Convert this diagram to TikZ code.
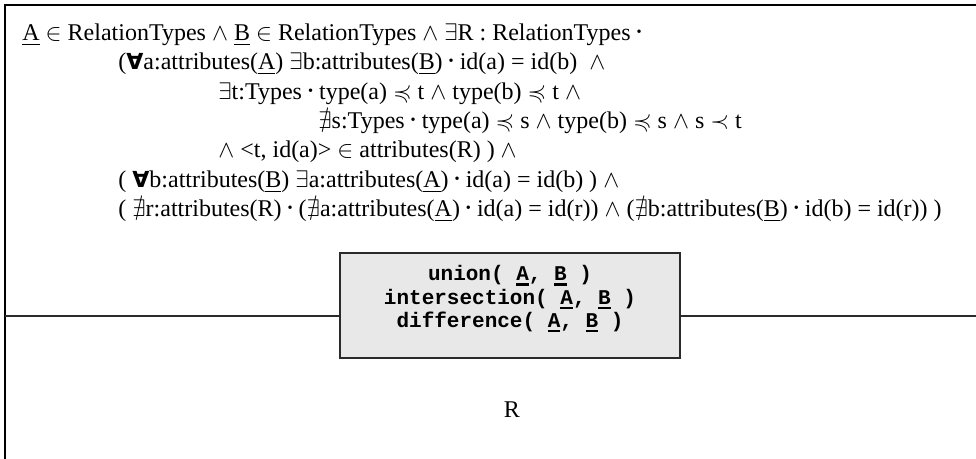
\documentclass[tikz,border=0pt]{standalone}
\usepackage{amsmath,amssymb}
\usepackage{graphicx}
\usepackage{fontspec}
\setmainfont{Liberation Serif}
\newfontfamily\codefont{Liberation Mono}
\newfontfamily\symfont{DejaVu Sans}

\definecolor{boxgray}{HTML}{E8E8E8}
\definecolor{edgegray}{HTML}{2A2A2A}

% thin underline for relation names in the formula
\newcommand{\relname}[1]{\underline{#1}}
% heavy underline for relation names in the operator box
\newcommand{\coderel}[1]{\leavevmode\setbox0\hbox{#1}\rlap{\rule[-0.22em]{\wd0}{0.11em}}\box0\relax}
% bold centred dot used as the "such that" separator
\newcommand{\st}{\raisebox{0.17em}{\scalebox{0.6}{\textbullet}}}
% heavy universal quantifier
\newcommand{\forallq}{{\symfont\bfseries\scalebox{0.92}{∀}}}

\begin{document}
\begin{tikzpicture}[x=0.5pt,y=-0.5pt,
  formula/.style={anchor=base west,inner sep=0pt,font=\fontsize{12}{14}\selectfont},
  opbox/.style={draw=edgegray,line width=0.8pt,fill=boxgray,minimum width=170pt,
    minimum height=52.5pt,inner sep=0pt},
  optext/.style={align=center,inner sep=0pt,
    font=\codefont\bfseries\fontsize{10.5}{11.7}\selectfont},
  frame/.style={line width=1.1pt,black},
  wire/.style={line width=0.8pt,edgegray}]
\useasboundingbox (0,0) rectangle (976,459);

% outer frame (top and left side)
\coordinate (topright) at (976,5);
\coordinate (corner) at (5,5);
\coordinate (bottomleft) at (5,459);
\draw[frame] (topright) -- (corner) -- (bottomleft);

% constraint formula
\node[formula] (l1) at (22,41) {\relname{A} $\in$ RelationTypes $\wedge$ \relname{B} $\in$ RelationTypes $\wedge$ $\exists$R : RelationTypes \st};
\node[formula] (l2) at (118,70) {(\forallq a:attributes(\relname{A}) $\exists$b:attributes(\relname{B}) \st{} id(a) = id(b) \ $\wedge$};
\node[formula] (l3) at (218,100) {$\exists$t:Types \st{} type(a) $\preccurlyeq$ t $\wedge$ type(b) $\preccurlyeq$ t $\wedge$};
\node[formula] (l4) at (318,129) {$\nexists$s:Types \st{} type(a) $\preccurlyeq$ s $\wedge$ type(b) $\preccurlyeq$ s $\wedge$ s $\prec$ t};
\node[formula] (l5) at (218,158) {$\wedge$ <t, id(a)> $\in$ attributes(R) ) $\wedge$};
\node[formula] (l6) at (118,188) {( \forallq b:attributes(\relname{B}) $\exists$a:attributes(\relname{A}) \st{} id(a) = id(b) ) $\wedge$};
\node[formula] (l7) at (118,217) {( $\nexists$r:attributes(R) \st{} ($\nexists$a:attributes(\relname{A}) \st{} id(a) = id(r)) $\wedge$ ($\nexists$b:attributes(\relname{B}) \st{} id(b) = id(r)) )};

% operator box
\node[opbox] (ops) at (510,305.5) {};
\node[optext] (opstext) at (510,299) {union( \coderel{A}, \coderel{B} )\\intersection( \coderel{A}, \coderel{B} )\\difference( \coderel{A}, \coderel{B} )};

% horizontal connector through the box
\coordinate (leftend) at (5,316);
\coordinate (rightend) at (976,316);
\draw[wire] (leftend) -- (ops.west |- leftend);
\draw[wire] (ops.east |- rightend) -- (rightend);

% result relation
\node[formula,anchor=center] (res) at (512,410) {R};
\end{tikzpicture}
\end{document}
